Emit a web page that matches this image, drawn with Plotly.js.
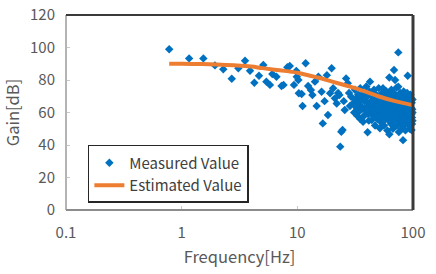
<!DOCTYPE html>
<html>
<head>
<meta charset="utf-8">
<script src="https://cdn.plot.ly/plotly-3.0.1.min.js"></script>
<style>html,body{margin:0;padding:0;background:#fff;}#chart{width:436px;height:274px;}</style>
</head>
<body>
<div id="chart"></div>
<script>
var measuredFreq = [
  0.78,1.16,1.54,1.94,2.29,2.71,3.09,3.53,3.9,4.25,4.66,5.08,5.4,5.8,6.08,6.6,7.3,7.6,8.2,8.6,9.35,9.9,9.8,
  10.2,10.3,10.9,11.1,11.8,12.4,13.1,13.5,14.2,14.7,15.2,16.2,16.6,17.2,18,18.4,19.2,19.8,20.4,21.1,21.9,22.5,23.1,23.5,24.0,24.6,25.2,25.7,26.4,27.3,28,28.5,29.2,30.3,
  31,31.5,32,32.5,33,33.5,34,34.5,35,35.5,36,36.5,37,37.5,38,38.5,39,39.5,40,40.5,41,41.5,42,42.5,43,43.5,44,44.5,45,45.5,46,46.5,47,47.5,48,48.5,49,49.5,
  50,50.5,51,51.7,52,52.5,53,53.5,54,54.5,55,55.5,56,56.5,57,57.5,58,58.5,59,59.5,60,60.5,61,61.5,62,62.4,62.4,63,63.5,64,64.5,65,65.5,66,66.5,67,67.5,68,68.5,69,69.5,
  70,70.5,71,71.5,72,72.5,73,73.5,74,74.6,74.6,75,75.5,76,76.5,77,77.5,78,78.5,79,79.5,80,80.5,81,81.5,82,82.5,83,83.5,84,84.5,85,85.5,86,86.5,87,87.5,88,88.5,89,89.5,
  90,90.5,91,91.5,92,92.5,93,93.5,94,94.5,95,95.5,96,96.5,97,97.5,98,98.5,99,99,
  33,36,39,42,45,48,51,54,57,60,63,66,69,72,75,78,81,84,87,90,93,96,99,
  34,38,43,47,52,56,61,65,70,74,79,83,88,92,97,
  35,41,46,53,58,64,68,73,77,82,86,91,95,98
];
var measuredGain = [
  98.9,93.3,93.3,89,86.6,80.8,87.2,91.9,85.7,78.3,82.6,89.2,79,77,83.7,82,76.3,77,87.8,88.6,77,82,85.5,
  80,71.8,71.4,64,90.3,76.3,73.8,70.8,79,64,82,72.8,53.3,67,83,58.5,71.8,87.2,74.9,68.7,65.6,72,70.8,39,48.2,49.2,67,61.5,81,78,72,64,69.7,65.6,
  60,74,68,63,58,71,66,61,75,64,69,57,54.3,72,62,67,59,76,70,47.8,64,55,73,79,61,67,55.4,70,63,58,74,66,52,60,71,64,56,68,
  62,75,58,50.3,66,70,54,63,72,60,74.9,67,52,59,64,70,56,62,73,66,49,58,69,63,55,81.6,46.6,71,60,66,53,74,62,57,68,50,64,72,86.2,59,66,
  80,55,62,70,75.3,52,60,67,57,97,75.9,63,48,69,58,65,72,54,61,67,50,59,70,63,56,43,66,73,52,60,68,57,64,49,71,62,55,67,58,72,61,
  82.6,53,65,59,69,56,62,50,66,58,71,54,63,60,49.2,66,57,62,55,68,
  65,62,69,66,60,68,64,61,66,63,59,67,62,58,64,60,63,57,65,61,58,62,60,
  70,67,71,69,66,68,65,67,64,66,62,64,61,63,59,
  56,59,61,57,60,55,58,56,62,54,57,55,58,53
];
// Estimated value curve
var estimatedFreq = [0.78,1,1.5,2,3,4,5,7,10,15,20,30,40,50,70,100];
var estimatedGain = [90,90,89.8,89.5,89,88.3,87.3,86,84.5,81.5,79,75.5,72.5,70,67,64.5];
var xTickVals = [0.1,1,10,100];
var xTickText = ['0.1','1','10','100'];
var yTickVals = [0,20,40,60,80,100,120];

var FONT = '"Noto Sans CJK JP", "Noto Sans", sans-serif';
var traces = [
  {
    x: measuredFreq, y: measuredGain, type: 'scatter', mode: 'markers',
    name: 'Measured Value',
    marker: {symbol: 'diamond', size: 6.5, color: '#0070C0'},
    cliponaxis: false
  },
  {
    x: estimatedFreq, y: estimatedGain, type: 'scatter', mode: 'lines',
    name: 'Estimated Value',
    line: {color: '#ED7D31', width: 4, shape: 'spline'}
  }
];
var layout = {
  width: 436, height: 274,
  margin: {l: 66, r: 23, t: 15, b: 64},
  paper_bgcolor: '#ffffff', plot_bgcolor: '#ffffff',
  font: {family: FONT, color: '#595959', size: 14},
  showlegend: true,
  legend: {
    x: 0.063, y: 0.185, xanchor: 'left', yanchor: 'middle',
    bgcolor: '#ffffff', bordercolor: '#262626', borderwidth: 1.5,
    font: {family: FONT, size: 15, color: '#404040'},
    tracegroupgap: 0, itemwidth: 30
  },
  xaxis: {
    type: 'log', range: [-1, 2],
    tickvals: xTickVals, ticktext: xTickText,
    ticks: 'inside', ticklen: 4, tickcolor: '#c8c8c8',
    showgrid: false, zeroline: false, showline: false,
    tickfont: {size: 15, color: '#595959'},
    ticklabelstandoff: 12,
    title: {text: 'Frequency[Hz]', font: {size: 16.5, color: '#595959'}, standoff: 10}
  },
  yaxis: {
    range: [0, 120], tickvals: yTickVals,
    ticks: 'inside', ticklen: 4, tickcolor: '#c8c8c8',
    showgrid: false, zeroline: false, showline: false,
    tickfont: {size: 15, color: '#595959'},
    ticklabelstandoff: 10,
    title: {text: 'Gain[dB]', font: {size: 16.5, color: '#595959'}, standoff: 8}
  },
  shapes: [
    {type: 'line', xref: 'paper', yref: 'paper', x0: 0, x1: 0, y0: 0, y1: 1, line: {color: '#b4b4b4', width: 2}},
    {type: 'line', xref: 'paper', yref: 'paper', x0: 0, x1: 1, y0: 0, y1: 0, line: {color: '#8c8c8c', width: 2}},
    {type: 'line', xref: 'paper', yref: 'paper', x0: 0, x1: 1, y0: 1, y1: 1, line: {color: '#3a3a3a', width: 2}},
    {type: 'line', xref: 'paper', yref: 'paper', x0: 1, x1: 1, y0: 0, y1: 1, line: {color: '#3a3a3a', width: 3}}
  ]
};
Plotly.newPlot('chart', traces, layout, {staticPlot: true, displayModeBar: false});
</script>
</body>
</html>
